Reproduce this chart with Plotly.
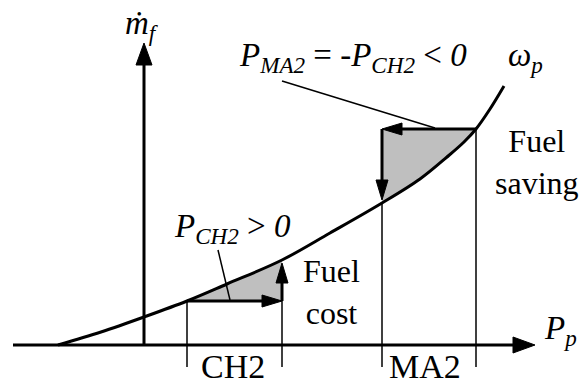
import plotly.graph_objects as go

# Fuel-rate curve omega_p: fuel mass flow vs. power (schematic units)
curve_p = [-0.86, -0.43, 0.0, 0.43, 0.83, 1.38, 1.86, 2.38, 2.76, 3.03, 3.20, 3.32, 3.46, 3.60]
curve_m = [0.00, 0.13, 0.28, 0.44, 0.61, 0.85, 1.12, 1.42, 1.66, 1.88, 2.03, 2.16, 2.36, 2.59]

# Operating intervals on the power axis
ch2_p = [0.43, 1.38]
ma2_p = [2.38, 3.32]
ch2_m = [0.44, 0.85]
ma2_m = [1.42, 2.16]

# Axis extents
x_axis_p = [-1.31, 3.91]
y_axis_m = [0.0, 3.02]
bracket_bottom = -0.22

# Leader lines for the power labels
lead_ma2_p = [1.38, 2.91]
lead_ma2_m = [2.64, 2.17]
lead_ch2_p = [0.74, 0.86]
lead_ch2_m = [0.95, 0.45]

FONT = "Liberation Serif"
BLACK = "black"
GRAY = "#bfbfbf"

fig = go.Figure()


def segment(p0, p1):
    """Curve points between p0 and p1 (inclusive)."""
    pts = [(p, m) for p, m in zip(curve_p, curve_m) if p0 - 1e-9 <= p <= p1 + 1e-9]
    return [q[0] for q in pts], [q[1] for q in pts]


def head(tip_x, tip_y, dx, dy, length, width):
    """Filled triangular arrow head pointing along (dx, dy)."""
    bx, by = tip_x - dx * length, tip_y - dy * length
    nx, ny = -dy * width / 2, dx * width / 2
    fig.add_trace(go.Scatter(
        x=[tip_x, bx + nx, bx - nx, tip_x], y=[tip_y, by + ny, by - ny, tip_y],
        mode="lines", fill="toself", fillcolor=BLACK,
        line=dict(color=BLACK, width=1), hoverinfo="skip", showlegend=False))


def line(xs, ys, width, shape="linear"):
    fig.add_trace(go.Scatter(
        x=xs, y=ys, mode="lines", line=dict(color=BLACK, width=width, shape=shape),
        hoverinfo="skip", showlegend=False))


def shade(p_range, level):
    """Gray area between the curve and a horizontal level."""
    sx, sy = segment(p_range[0], p_range[1])
    fig.add_trace(go.Scatter(x=p_range, y=[level, level], mode="lines",
                             line=dict(width=0), hoverinfo="skip", showlegend=False))
    fig.add_trace(go.Scatter(x=sx, y=sy, mode="lines", fill="tonexty", fillcolor=GRAY,
                             line=dict(width=0, shape="spline"), hoverinfo="skip",
                             showlegend=False))


shade(ch2_p, ch2_m[0])
shade(ma2_p, ma2_m[1])

# Interval brackets
line([ch2_p[0], ch2_p[0]], [ch2_m[0], bracket_bottom], 1.5)
line([ch2_p[1], ch2_p[1]], [ch2_m[0], bracket_bottom], 1.5)
line([ma2_p[0], ma2_p[0]], [ma2_m[0], bracket_bottom], 1.5)
line([ma2_p[1], ma2_p[1]], [ma2_m[1], bracket_bottom], 1.5)

# Leader lines
line(lead_ma2_p, lead_ma2_m, 1.5)
line(lead_ch2_p, lead_ch2_m, 1.5)

# Axes with arrow heads
AX_LEN, AX_W = 0.22, 0.16
line([x_axis_p[0], x_axis_p[1] - AX_LEN], [0, 0], 3)
head(x_axis_p[1], 0, 1, 0, AX_LEN, AX_W)
line([0, 0], [y_axis_m[0], y_axis_m[1] - AX_LEN], 3)
head(0, y_axis_m[1], 0, 1, AX_LEN, AX_W)

# Fuel curve
line(curve_p, curve_m, 3, shape="spline")

# CH2 moves: right along power, then up to the curve
AR_LEN, AR_W = 0.20, 0.12
line([ch2_p[0], ch2_p[1] - AR_LEN], [ch2_m[0], ch2_m[0]], 3)
head(ch2_p[1], ch2_m[0], 1, 0, AR_LEN, AR_W)
line([ch2_p[1], ch2_p[1]], [ch2_m[0], ch2_m[1] - 0.03 - AR_LEN], 3)
head(ch2_p[1], ch2_m[1] - 0.03, 0, 1, AR_LEN, AR_W)

# MA2 moves: left along power, then down to the curve
line([ma2_p[1], ma2_p[0] + AR_LEN], [ma2_m[1], ma2_m[1]], 3)
head(ma2_p[0], ma2_m[1], -1, 0, AR_LEN, AR_W)
line([ma2_p[0], ma2_p[0]], [ma2_m[1], ma2_m[0] + 0.03 + AR_LEN], 3)
head(ma2_p[0], ma2_m[0] + 0.03, 0, -1, AR_LEN, AR_W)

# Text labels
labels = [
    (0.93, 2.88, "<i>P</i><sub><i>MA2</i></sub> = -<i>P</i><sub><i>CH2</i></sub> &lt; <i>0</i>", 33, "left"),
    (3.81, 2.88, "<i>ω</i><sub><i>p</i></sub>", 33, "center"),
    (3.93, 1.83, "Fuel<br>saving", 32, "center"),
    (0.28, 1.17, "<i>P</i><sub><i>CH2</i></sub> &gt; <i>0</i>", 33, "left"),
    (1.87, 0.53, "Fuel<br>cost", 32, "center"),
    (0.89, -0.21, "CH2", 34, "center"),
    (2.81, -0.21, "MA2", 34, "center"),
    (3.98, 0.15, "<i>P</i><sub><i>p</i></sub>", 33, "left"),
    (-0.21, 3.20, "<i>ṁ</i><sub><i>f</i></sub>", 33, "left"),
]
for x, y, text, size, anchor in labels:
    fig.add_annotation(x=x, y=y, text=text, showarrow=False, xanchor=anchor,
                       font=dict(family=FONT, size=size, color=BLACK))

fig.update_layout(
    width=579, height=385, margin=dict(l=0, r=0, t=0, b=0),
    font=dict(family=FONT, color=BLACK),
    paper_bgcolor="white", plot_bgcolor="white", showlegend=False,
    xaxis=dict(range=[-1.44, 4.35], visible=False),
    yaxis=dict(range=[-0.40, 3.45], visible=False),
)

fig.write_html("out.html")
